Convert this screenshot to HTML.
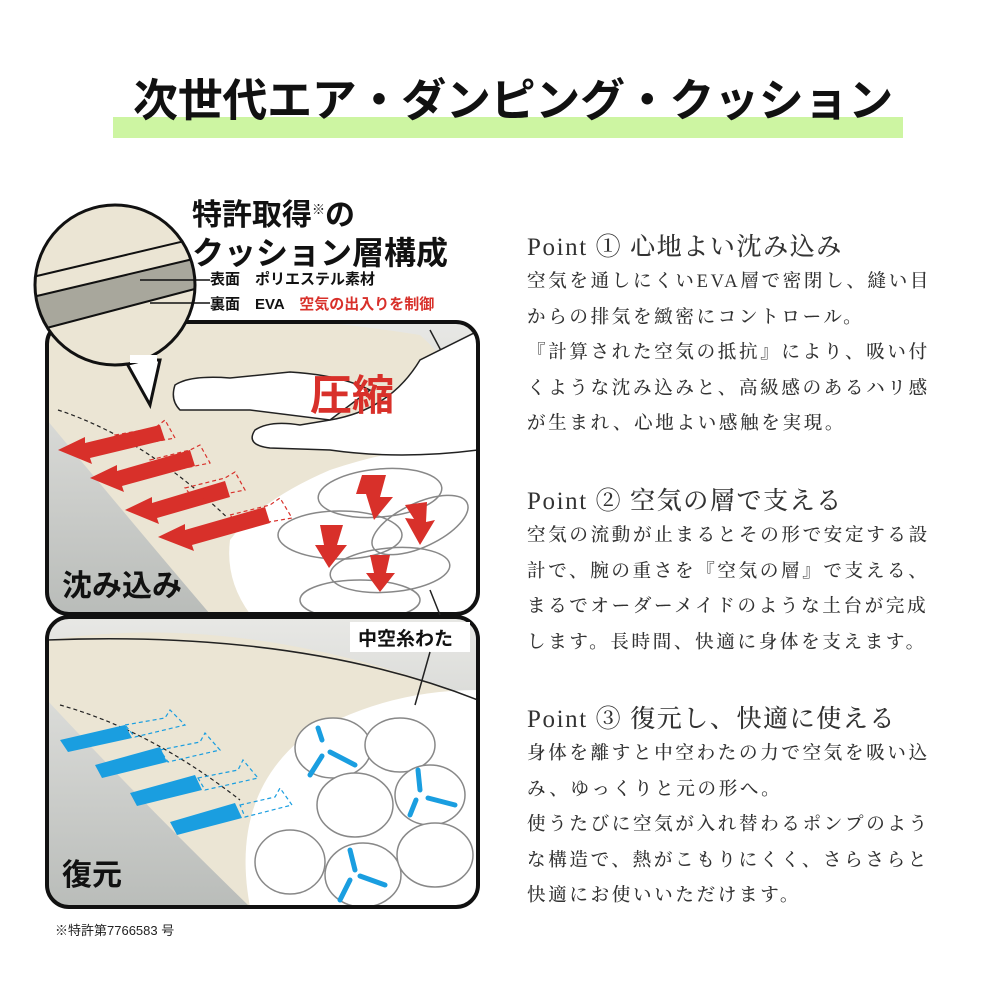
<!DOCTYPE html>
<html><head><meta charset="utf-8"><style>
html,body{margin:0;padding:0;background:#fff;}
body{width:1000px;height:1000px;position:relative;overflow:hidden;font-family:"Liberation Sans","Noto Sans CJK JP",sans-serif;}
.t{position:absolute;white-space:nowrap;}
.serif{font-family:"Liberation Serif","Noto Serif CJK SC",serif;color:#333;}
.pt{font-size:25px;letter-spacing:1.6px;font-weight:500;}
.bd{font-size:18.5px;letter-spacing:2.7px;font-weight:500;}
</style></head><body>
<div style="position:absolute;left:113px;top:117px;width:790px;height:21px;background:#cdf5a2"></div>
<div class="t" style="left:133px;top:64px;font-size:45px;font-weight:bold;color:#111;letter-spacing:-0.3px">次世代エア・ダンピング・クッション</div>

<svg style="position:absolute;left:0;top:0" width="1000" height="1000">
<defs>
<linearGradient id="g" x1="0" y1="0" x2="0" y2="1"><stop offset="0" stop-color="#e9e9e6"/><stop offset="1" stop-color="#b9bcb9"/></linearGradient>
<clipPath id="c1"><rect x="47" y="322" width="431" height="292" rx="22"/></clipPath>
<clipPath id="c2"><rect x="47" y="617" width="431" height="290" rx="22"/></clipPath>
<clipPath id="cc"><circle cx="115" cy="285" r="80"/></clipPath>
</defs>
<g clip-path="url(#c1)">
<rect x="40" y="315" width="450" height="300" fill="url(#g)"/>
<path d="M47,330 Q200,300 420,335 Q470,380 478,440 L478,614 L210,614 Q130,520 47,420 Z" fill="#ebe5d4"/>
<path d="M478,420 L430,330" stroke="#222" stroke-width="1.5"/>
<path d="M230,540 Q260,500 330,470 Q420,440 478,450 L478,614 L250,614 Q225,580 230,540Z" fill="#fff"/>
<g fill="none" stroke="#888" stroke-width="1.5">
<ellipse cx="380" cy="493" rx="62" ry="24" transform="rotate(-5 380 493)"/>
<ellipse cx="340" cy="535" rx="62" ry="24"/>
<ellipse cx="420" cy="525" rx="52" ry="22" transform="rotate(-25 420 525)"/>
<ellipse cx="390" cy="570" rx="60" ry="22" transform="rotate(-5 390 570)"/>
<ellipse cx="360" cy="600" rx="60" ry="20"/>
</g>
<path d="M58,410 Q150,440 240,530" fill="none" stroke="#222" stroke-dasharray="4 3" stroke-width="1.2"/>
<g fill="#d8302a">
<polygon points="58,450 85,437 85,443 160,425 165,440 90,458 92,464"/>
<polygon points="90,478 117,465 117,471 190,450 195,466 122,486 124,492"/>
<polygon points="125,510 152,497 152,503 225,481 230,497 157,518 159,524"/>
<polygon points="158,537 185,524 185,530 265,507 270,523 192,545 194,551"/>
<polygon points="362,475 386,475 380,497 393,497 374,520 366,494 356,494"/>
<polygon points="405,505 427,502 426,522 435,520 420,545 405,518 414,519"/>
<polygon points="320,525 343,525 337,545 347,545 329,568 315,545 324,545"/>
<polygon points="370,555 390,555 386,573 395,573 380,592 366,573 374,573"/>
</g>
<g fill="none" stroke="#d8302a" stroke-width="1.2" stroke-dasharray="4 3">
<polygon points="115,435 155,428 165,420 175,438 125,447"/>
<polygon points="150,460 190,450 200,445 210,463 160,473"/>
<polygon points="185,488 225,478 235,472 245,490 195,500"/>
<polygon points="230,515 270,505 280,498 292,518 240,527"/>
</g>
<path d="M255,430 Q270,420 300,425 L330,420 Q390,410 420,360 L480,330 L478,450 Q400,460 330,450 L270,448 Q245,445 255,430Z" fill="#fff" stroke="#222" stroke-width="1.5"/>
<path d="M175,385 Q190,375 230,378 L290,372 Q340,375 370,390 L330,420 L250,410 L180,410 Q170,400 175,385Z" fill="#fff" stroke="#222" stroke-width="1.5"/>
</g>
<rect x="47" y="322" width="431" height="292" rx="22" fill="none" stroke="#111" stroke-width="4"/>
<text x="310" y="410" font-size="42" font-weight="bold" fill="#d8302a" font-family="Liberation Sans,Noto Sans CJK JP,sans-serif">圧縮</text>
<text x="62" y="596" font-size="30" font-weight="bold" fill="#111" font-family="Liberation Sans,Noto Sans CJK JP,sans-serif">沈み込み</text>

<g clip-path="url(#c2)">
<rect x="40" y="610" width="450" height="300" fill="url(#g)"/>
<path d="M47,640 Q250,610 478,700 L478,907 L250,907 Q140,800 47,700Z" fill="#ebe5d4"/>
<path d="M250,907 Q230,800 300,740 Q380,690 478,690 L478,907Z" fill="#fff"/>
<path d="M47,640 Q300,630 478,700" fill="none" stroke="#222" stroke-width="1.5"/>
<g fill="#fff" stroke="#888" stroke-width="1.5">
<ellipse cx="333" cy="748" rx="38" ry="30"/>
<ellipse cx="400" cy="745" rx="35" ry="27"/>
<ellipse cx="430" cy="795" rx="35" ry="30"/>
<ellipse cx="355" cy="805" rx="38" ry="32"/>
<ellipse cx="290" cy="862" rx="35" ry="32"/>
<ellipse cx="363" cy="875" rx="38" ry="32"/>
<ellipse cx="435" cy="855" rx="38" ry="32"/>
</g>
<path d="M60,705 Q150,730 240,800" fill="none" stroke="#222" stroke-dasharray="4 3" stroke-width="1.2"/>
<g fill="#1a9ee0">
<polygon points="60,740 125,725 132,738 68,752"/>
<polygon points="95,765 160,747 167,762 102,778"/>
<polygon points="130,793 195,775 202,790 137,806"/>
<polygon points="170,822 235,803 242,818 177,835"/>
</g>
<g fill="none" stroke="#1a9ee0" stroke-width="1.2" stroke-dasharray="4 3">
<polygon points="125,725 165,718 170,710 185,725 135,737"/>
<polygon points="160,750 200,742 205,733 220,750 168,762"/>
<polygon points="198,778 238,770 243,760 258,778 205,790"/>
<polygon points="240,805 275,797 280,788 292,805 245,817"/>
</g>
<g stroke="#1a9ee0" stroke-width="5" fill="none" stroke-linecap="round">
<path d="M322,740 L318,728 M330,752 L355,765 M322,756 L310,775"/>
<path d="M420,790 L418,770 M428,798 L455,805 M416,800 L410,815"/>
<path d="M355,870 L350,850 M360,876 L385,885 M350,880 L340,900"/>
</g>
</g>
<rect x="47" y="617" width="431" height="290" rx="22" fill="none" stroke="#111" stroke-width="4"/>
<rect x="350" y="622" width="120" height="30" fill="#fff"/>
<text x="358" y="645" font-size="19" font-weight="bold" fill="#111" font-family="Liberation Sans,Noto Sans CJK JP,sans-serif">中空糸わた</text>
<path d="M430,590 L440,615 M430,652 L415,705" stroke="#222" stroke-width="1.5"/>
<text x="62" y="885" font-size="30" font-weight="bold" fill="#111" font-family="Liberation Sans,Noto Sans CJK JP,sans-serif">復元</text>

<path d="M125,360 L150,405 L160,360Z" fill="#fff" stroke="#111" stroke-width="3"/>
<g clip-path="url(#cc)">
<rect x="30" y="200" width="170" height="170" fill="#ebe5d4"/>
<path d="M20,300 L210,255 L210,285 L20,335Z" fill="#a8a79c"/>
<path d="M20,280 L210,235 M20,300 L210,255 M20,335 L210,285" stroke="#111" stroke-width="2"/>
</g>
<circle cx="115" cy="285" r="80" fill="none" stroke="#111" stroke-width="3"/>
<rect x="130" y="355" width="27" height="8" fill="#fff"/>
<path d="M140,280 L210,280 M150,303 L210,303" stroke="#111" stroke-width="1.5"/>
</svg>

<div class="t" style="left:192px;top:190px;font-size:30px;font-weight:bold;color:#111">特許取得<sup style="font-size:13px;font-weight:normal">※</sup>の</div>
<div class="t" style="left:192px;top:228px;font-size:32px;font-weight:bold;color:#111">クッション層構成</div>
<div class="t" style="left:210px;top:268px;font-size:15px;font-weight:bold;color:#111">表面　ポリエステル素材</div>
<div class="t" style="left:210px;top:293px;font-size:15px;font-weight:bold;color:#111">裏面　EVA　<span style="color:#d8302a">空気の出入りを制御</span></div>
<div class="t" style="left:55px;top:920px;font-size:13px;color:#222">※特許第7766583 号</div>

<div class="t serif pt" style="left:527px;top:227px">Point ① 心地よい沈み込み</div>
<div class="t serif bd" style="left:527px;top:265px;line-height:35.5px">空気を通しにくいEVA層で密閉し、縫い目<br>からの排気を緻密にコントロール。<br>『計算された空気の抵抗』により、吸い付<br>くような沈み込みと、高級感のあるハリ感<br>が生まれ、心地よい感触を実現。</div>
<div class="t serif pt" style="left:527px;top:481px">Point ② 空気の層で支える</div>
<div class="t serif bd" style="left:527px;top:519px;line-height:35.5px">空気の流動が止まるとその形で安定する設<br>計で、腕の重さを『空気の層』で支える、<br>まるでオーダーメイドのような土台が完成<br>します。長時間、快適に身体を支えます。</div>
<div class="t serif pt" style="left:527px;top:699px">Point ③ 復元し、快適に使える</div>
<div class="t serif bd" style="left:527px;top:737px;line-height:35.5px">身体を離すと中空わたの力で空気を吸い込<br>み、ゆっくりと元の形へ。<br>使うたびに空気が入れ替わるポンプのよう<br>な構造で、熱がこもりにくく、さらさらと<br>快適にお使いいただけます。</div>
</body></html>
